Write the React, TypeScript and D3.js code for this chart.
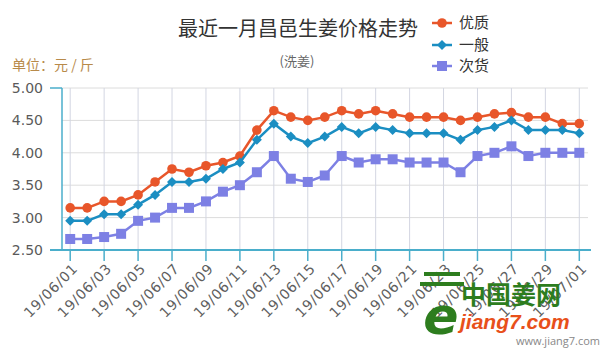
import React from "react";
import * as d3 from "d3";

const categories = [
  "19/06/01","19/06/02","19/06/03","19/06/04","19/06/05","19/06/06","19/06/07","19/06/08",
  "19/06/09","19/06/10","19/06/11","19/06/12","19/06/13","19/06/14","19/06/15","19/06/16",
  "19/06/17","19/06/18","19/06/19","19/06/20","19/06/21","19/06/22","19/06/23","19/06/24",
  "19/06/25","19/06/26","19/06/27","19/06/28","19/06/29","19/06/30","19/07/01",
];

const youzhi = [3.15,3.15,3.25,3.25,3.35,3.55,3.75,3.70,3.80,3.85,3.95,4.35,4.65,4.55,4.50,4.55,
  4.65,4.60,4.65,4.60,4.55,4.55,4.55,4.50,4.55,4.60,4.62,4.55,4.55,4.45,4.45];
const yiban = [2.95,2.95,3.05,3.05,3.20,3.35,3.55,3.55,3.60,3.75,3.85,4.20,4.45,4.25,4.15,4.25,
  4.40,4.30,4.40,4.35,4.30,4.30,4.30,4.20,4.35,4.40,4.50,4.35,4.35,4.35,4.30];
const cihuo = [2.67,2.67,2.70,2.75,2.95,3.00,3.15,3.15,3.25,3.40,3.50,3.70,3.95,3.60,3.55,3.65,
  3.95,3.85,3.90,3.90,3.85,3.85,3.85,3.70,3.95,4.00,4.10,3.95,4.00,4.00,4.00];

const yTicks = [2.5, 3.0, 3.5, 4.0, 4.5, 5.0];
const seriesNames = ["优质", "一般", "次货"];
const seriesColors = ["#e8562a", "#1b8ec2", "#7d80e4"];

const W = 610, H = 360;

function Marker({ kind, x, y, color, s = 1 }: { kind: number; x: number; y: number; color: string; s?: number }) {
  if (kind === 0) return <circle cx={x} cy={y} r={4.8 * s} fill={color} />;
  if (kind === 1) {
    const r = 5 * s;
    return <path d={`M${x},${y - r}L${x + r},${y}L${x},${y + r}L${x - r},${y}Z`} fill={color} />;
  }
  const h = 5 * s;
  return <rect x={x - h} y={y - h} width={2 * h} height={2 * h} fill={color} />;
}

export default function App() {
  const x = d3.scalePoint<string>().domain(categories).range([70.2, 579.3]);
  const y = d3.scaleLinear().domain([2.5, 5]).range([250, 88]);
  const series = [youzhi, yiban, cihuo];
  const line = d3.line<number>().x((_, i) => x(categories[i])!).y((v) => y(v));
  const labelCats = categories.filter((_, i) => i % 2 === 0);
  const font = "'DejaVu Sans', Verdana, sans-serif";
  const cjk = "'Noto Sans CJK SC', sans-serif";
  const axisColor = "#4aaecb";

  return (
    <svg width={W} height={H} style={{ position: "absolute", left: 0, top: 0, background: "#fff" }}>
      <rect width={W} height={H} fill="#fff" />
      {/* horizontal grid */}
      {yTicks.map((t) => (
        <line key={t} x1={62} x2={588} y1={y(t)} y2={y(t)} stroke="#dcdcdc" strokeWidth={1} />
      ))}
      {/* vertical grid */}
      {labelCats.map((c) => (
        <line key={c} x1={x(c)} x2={x(c)} y1={88} y2={250} stroke="#d3d6e2" strokeWidth={1} />
      ))}
      {/* y axis */}
      <line x1={62} x2={62} y1={88} y2={250} stroke={axisColor} strokeWidth={1.5} />
      <line x1={50} x2={62} y1={88} y2={88} stroke={axisColor} strokeWidth={1.5} />
      {yTicks.map((t) => (
        <text key={t} x={43} y={y(t)} dy="0.36em" textAnchor="end" fontFamily={font} fontSize={14} fill="#5a5a5a">
          {t.toFixed(2)}
        </text>
      ))}
      {/* x axis */}
      <line x1={50} x2={591} y1={250} y2={250} stroke={axisColor} strokeWidth={2} />
      {labelCats.map((c) => (
        <g key={c}>
          <line x1={x(c)} x2={x(c)} y1={250} y2={261} stroke={axisColor} strokeWidth={1.5} />
          <text
            transform={`translate(${x(c)! + 5},${266}) rotate(-45)`}
            textAnchor="end"
            dy="0.35em"
            fontFamily={font}
            fontSize={14}
            letterSpacing={0.8}
            fill="#5e5e5e"
          >
            {c}
          </text>
        </g>
      ))}
      {/* series */}
      {series.map((vals, k) => (
        <g key={k}>
          <path d={line(vals)!} fill="none" stroke={seriesColors[k]} strokeWidth={2.5} />
          {vals.map((v, i) => (
            <Marker key={i} kind={k} x={x(categories[i])!} y={y(v)} color={seriesColors[k]} />
          ))}
        </g>
      ))}
      {/* title */}
      <text x={298} y={36} textAnchor="middle" fontFamily={cjk} fontSize={20} fill="#333">
        最近一月昌邑生姜价格走势
      </text>
      <text x={297} y={66} textAnchor="middle" fontFamily={cjk} fontSize={13} fill="#666">
        (洗姜)
      </text>
      <text x={12} y={70} fontFamily={cjk} fontSize={14} fill="#b88a4a">
        单位：元 / 斤
      </text>
      {/* legend */}
      {seriesNames.map((n, k) => {
        const ly = [23, 45, 66][k];
        return (
          <g key={n}>
            <line x1={432} x2={452} y1={ly} y2={ly} stroke={seriesColors[k]} strokeWidth={2.5} />
            <Marker kind={k} x={442} y={ly} color={seriesColors[k]} />
            <text x={459} y={ly} dy="0.36em" fontFamily={cjk} fontSize={15} fill="#333">
              {n}
            </text>
          </g>
        );
      })}
      {/* watermark */}
      <g>
        <rect x={424} y={272} width={36} height={4} fill="#2d7d1e" />
        <rect x={420} y={282} width={44} height={4} fill="#2d7d1e" />
        <text x={441} y={334} textAnchor="middle" fontFamily={font} fontWeight="bold" fontStyle="italic" fontSize={52} fill="#2d7d1e">
          e
        </text>
        <text x={461} y={304} fontFamily={cjk} fontWeight="bold" fontSize={25} fill="#2d7d1e">
          中国姜网
        </text>
        <text x={460} y={329} fontFamily="'Liberation Sans', Arial, sans-serif" fontWeight="bold" fontStyle="italic" fontSize={21} fill="#e8501a">
          jiang7.com
        </text>
      </g>
      <text x={600} y={345} textAnchor="end" fontFamily="'Open Sans', sans-serif" fontSize={11} fill="#888">
        www.jiang7.com
      </text>
    </svg>
  );
}
